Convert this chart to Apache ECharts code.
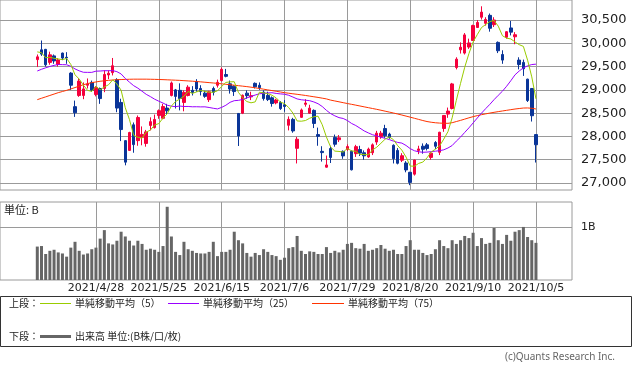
<!DOCTYPE html>
<html><head><meta charset="utf-8">
<script src="https://cdn.jsdelivr.net/npm/echarts@6/dist/echarts.min.js"></script>
<style>html,body{margin:0;padding:0;background:#fff}#c{width:633px;height:372px}</style>
</head><body><div id="c"></div><script>
const dates = ['2021/4/8','2021/4/9','2021/4/12','2021/4/13','2021/4/14','2021/4/15','2021/4/16','2021/4/19','2021/4/20','2021/4/21',
'2021/4/22','2021/4/23','2021/4/26','2021/4/27','2021/4/28','2021/4/30','2021/5/6','2021/5/7','2021/5/10','2021/5/11',
'2021/5/12','2021/5/13','2021/5/14','2021/5/17','2021/5/18','2021/5/19','2021/5/20','2021/5/21','2021/5/24','2021/5/25',
'2021/5/26','2021/5/27','2021/5/28','2021/5/31','2021/6/1','2021/6/2','2021/6/3','2021/6/4','2021/6/7','2021/6/8',
'2021/6/9','2021/6/10','2021/6/11','2021/6/14','2021/6/15','2021/6/16','2021/6/17','2021/6/18','2021/6/21','2021/6/22',
'2021/6/23','2021/6/24','2021/6/25','2021/6/28','2021/6/29','2021/6/30','2021/7/1','2021/7/2','2021/7/5','2021/7/6',
'2021/7/7','2021/7/8','2021/7/9','2021/7/12','2021/7/13','2021/7/14','2021/7/15','2021/7/16','2021/7/19','2021/7/20',
'2021/7/21','2021/7/26','2021/7/27','2021/7/28','2021/7/29','2021/7/30','2021/8/2','2021/8/3','2021/8/4','2021/8/5',
'2021/8/6','2021/8/10','2021/8/11','2021/8/12','2021/8/13','2021/8/16','2021/8/17','2021/8/18','2021/8/19','2021/8/20',
'2021/8/23','2021/8/24','2021/8/25','2021/8/26','2021/8/27','2021/8/30','2021/8/31','2021/9/1','2021/9/2','2021/9/3',
'2021/9/6','2021/9/7','2021/9/8','2021/9/9','2021/9/10','2021/9/13','2021/9/14','2021/9/15','2021/9/16','2021/9/17',
'2021/9/21','2021/9/22','2021/9/24','2021/9/27','2021/9/28','2021/9/29','2021/9/30','2021/10/1','2021/10/4','2021/10/5'];

const opens = [29650,29860,29870,29590,29730,29545,29790,29700,29360,28640,
28880,28880,29100,29160,28900,29030,29030,29320,29370,29220,
28730,27910,27700,28250,27910,27980,27850,28236,28190,28450,
28390,28610,28880,29000,28990,28730,28880,28990,29180,29030,
28930,28790,29030,29100,29200,29330,29130,29080,28494,28500,
28930,28850,29140,29100,28950,28880,28830,28720,28730,28680,
28240,28366,27745,28410,28690,28500,28560,28040,27680,27340,
27740,27980,27930,27680,27720,27680,27630,27720,27650,27560,
27650,27880,28000,28170,28050,27810,27700,27490,27430,27230,
27190,27700,27790,27820,27550,27870,27660,28170,28480,28600,
29480,29860,29790,29920,30060,30340,30560,30430,30600,30400,
30020,29760,30130,30330,30140,29640,29590,29230,29030,28040];
const closes = [29709,29768,29539,29752,29621,29643,29683,29685,29100,28509,
29188,29021,29126,28992,29054,28813,29331,29358,29518,28609,
28148,27448,28084,27825,28407,28044,28098,28318,28365,28554,
28642,28549,29149,28860,28814,28946,29058,28942,29019,28964,
28861,28959,28949,29162,29441,29291,29018,28964,28011,28884,
28875,28875,29066,29048,28813,28792,28707,28783,28598,28643,
28367,28118,27940,28569,28718,28608,28279,28003,27653,27388,
27548,27833,27970,27582,27782,27284,27781,27642,27584,27728,
27820,28070,28070,28015,27977,27523,27424,27586,27281,27013,
27494,27732,27725,27742,27641,27789,28090,28451,28544,29128,
29660,29916,30181,30008,30382,30447,30670,30512,30323,30500,
29840,29639,30249,30240,30184,29544,29453,28771,28445,27822];
const lows = [29490,29730,29500,29540,29560,29500,29640,29560,29000,28420,
28850,28800,29030,28960,28860,28700,28950,29230,29310,28520,
27900,27380,27690,27650,27800,27810,27780,28130,28170,28380,
28370,28460,28860,28600,28560,28540,28860,28880,28960,28880,
28830,28740,28880,29050,29180,29270,28920,28870,27795,28480,
28810,28780,29030,29000,28770,28760,28640,28690,28570,28530,
28130,28080,27420,28400,28640,28490,28180,27800,27460,27330,
27430,27780,27880,27520,27690,27270,27560,27580,27500,27540,
27600,27820,27950,27970,27950,27420,27400,27450,27230,26954,
27160,27620,27630,27700,27500,27730,27600,28100,28400,28580,
29440,29780,29760,29880,30050,30330,30510,30380,30250,30350,
29790,29560,30100,30170,29980,29440,29300,28740,28320,27440];
const highs = [29760,30060,29880,29820,29760,29680,29800,29810,29380,28770,
29250,29160,29245,29200,29080,29050,29420,29420,29685,29250,
28810,27920,28100,28300,28450,28215,28140,28410,28470,28580,
28700,28700,29180,29020,29140,28990,29100,29080,29230,29100,
28980,28980,29070,29220,29480,29450,29200,29100,28500,28900,
28990,28960,29160,29160,28990,28960,28860,28810,28760,28780,
28430,28400,27990,28600,28800,28680,28580,28190,27790,27590,
27800,28040,28030,27700,27830,27700,27820,27800,27700,27760,
27850,28120,28120,28250,28080,27830,27750,27640,27470,27240,
27500,27800,27850,27860,27660,27900,28100,28460,28620,29150,
29700,30020,30220,30100,30400,30500,30795,30560,30640,30560,
30040,29850,30260,30480,30240,29700,29650,29240,29040,28050];

const ma5 = [29816,29799,29689,29700,29678,29665,29648,29677,29546,29324,
29233,29101,28989,28967,29076,29001,29063,29110,29215,29126,
28993,28616,28361,28023,27982,27962,28092,28138,28246,28276,
28395,28486,28652,28751,28803,28864,28965,28924,28956,28986,
28969,28949,28950,28979,29074,29160,29172,29175,28945,28834,
28750,28722,28742,28950,28935,28919,28885,28829,28739,28705,
28620,28502,28333,28327,28342,28391,28423,28435,28252,27986,
27774,27685,27678,27664,27743,27690,27680,27614,27615,27604,
27711,27769,27854,27941,27990,27931,27802,27705,27558,27365,
27360,27421,27449,27541,27667,27726,27797,27943,28103,28400,
28775,29140,29486,29779,30029,30187,30338,30404,30467,30490,
30369,30163,30110,30094,30030,29971,29934,29638,29279,28807];
const ma25 = [29406,29442,29474,29503,29526,29544,29542,29539,29506,29450,
29409,29378,29376,29376,29402,29405,29412,29411,29414,29391,
29342,29245,29165,29090,29037,28971,28904,28855,28800,28757,
28717,28671,28650,28640,28653,28643,28644,28637,28638,28635,
28636,28622,28605,28591,28624,28670,28733,28768,28775,28794,
28828,28859,28889,28916,28926,28932,28939,28924,28914,28907,
28884,28846,28806,28788,28778,28768,28741,28703,28643,28560,
28491,28443,28404,28386,28342,28279,28235,28178,28119,28076,
28037,28012,27983,27960,27933,27899,27872,27857,27806,27738,
27693,27671,27660,27664,27674,27684,27694,27713,27752,27805,
27900,27986,28087,28184,28290,28396,28500,28597,28690,28790,
28883,28972,29078,29197,29323,29405,29474,29516,29544,29552];
const ma75 = [28790,28820,28850,28880,28910,28940,28965,28990,29020,29050,
29080,29110,29135,29155,29170,29185,29195,29205,29212,29218,
29222,29225,29228,29230,29230,29230,29230,29228,29226,29223,
29220,29216,29212,29208,29204,29198,29192,29186,29180,29172,
29164,29156,29148,29140,29130,29120,29110,29100,29090,29080,
29070,29058,29045,29030,29015,29000,28985,28970,28955,28940,
28928,28916,28905,28893,28880,28866,28852,28838,28822,28806,
28780,28762,28744,28725,28707,28690,28672,28654,28636,28618,
28600,28582,28563,28543,28523,28503,28482,28460,28437,28414,
28390,28366,28342,28320,28305,28294,28287,28283,28282,28295,
28320,28345,28372,28400,28425,28447,28467,28485,28502,28518,
28533,28547,28561,28575,28589,28600,28610,28612,28605,28590];

const volumes = [0.63,0.64,0.49,0.55,0.57,0.52,0.50,0.44,0.61,0.72,
0.55,0.48,0.50,0.58,0.61,0.78,0.94,0.69,0.67,0.74,
0.91,0.82,0.74,0.65,0.74,0.68,0.57,0.59,0.57,0.53,
0.64,1.38,0.82,0.53,0.47,0.72,0.58,0.55,0.51,0.50,
0.50,0.53,0.72,0.45,0.53,0.53,0.57,0.91,0.75,0.69,
0.51,0.44,0.51,0.47,0.58,0.53,0.47,0.45,0.38,0.42,
0.60,0.62,0.83,0.55,0.49,0.54,0.53,0.49,0.49,0.62,
0.51,0.55,0.52,0.57,0.68,0.70,0.60,0.59,0.68,0.55,
0.57,0.60,0.66,0.59,0.55,0.57,0.49,0.49,0.64,0.75,
0.57,0.57,0.51,0.47,0.49,0.58,0.75,0.64,0.60,0.75,
0.68,0.75,0.83,0.79,0.89,0.64,0.79,0.68,0.70,0.98,
0.75,0.68,0.85,0.74,0.91,0.94,1.00,0.81,0.75,0.70];

const dateTickIdx = [14, 29, 44, 59, 74, 89, 104, 119];
const priceTicks = [27000, 27500, 28000, 28500, 29000, 29500, 30000, 30500];
const volumeTicks = [1];

const RED = '#f5003c', BLUE = '#0a3598';
const GRID = '#9a9a9a';
const X_MIN = -8.9, X_MAX = 127.6;
const FONT = '"DejaVu Sans", "Noto Sans CJK JP", sans-serif';
const JFONT = '"Noto Sans CJK JP", "DejaVu Sans", sans-serif';

const idxOf = (arr) => arr.map((v, i) => [i, v]);
const candleData = dates.map((d, i) => [i, opens[i], closes[i], lows[i], highs[i]]);
const fmtComma = (v) => String(v).replace(/\B(?=(\d{3})+(?!\d))/g, ',');

const chart = echarts.init(document.getElementById('c'), null, {renderer: 'canvas'});
const xCommon = (gi, showLabel) => ({
  type: 'value', gridIndex: gi, min: X_MIN, max: X_MAX,
  axisLine: {show: false},
  axisTick: {show: false, customValues: dateTickIdx},
  axisLabel: {show: showLabel, customValues: dateTickIdx, formatter: (v) => dates[Math.round(v)],
    margin: 3, color: '#222', fontSize: 11, fontFamily: FONT},
  splitLine: {show: true, lineStyle: {color: GRID, width: 1}}
});
chart.setOption({
  animation: false,
  backgroundColor: '#fff',
  grid: [
    {left: 0, top: 0, width: 572, height: 190, show: true, borderColor: GRID, borderWidth: 1, backgroundColor: 'transparent'},
    {left: 0, top: 202, width: 572, height: 78, show: true, borderColor: GRID, borderWidth: 1, backgroundColor: 'transparent'}
  ],
  xAxis: [xCommon(0, false), xCommon(1, true)],
  yAxis: [
    {type: 'value', gridIndex: 0, position: 'right', min: 26850, max: 30930,
     axisLine: {show: false}, axisTick: {show: false, customValues: priceTicks},
     axisLabel: {customValues: priceTicks, formatter: (v) => fmtComma(v), margin: 9, color: '#222', fontSize: 13, fontFamily: FONT, align: 'left'},
     splitLine: {show: true, lineStyle: {color: GRID, width: 1}}},
    {type: 'value', gridIndex: 1, position: 'right', min: 0, max: 1.47,
     axisLine: {show: false}, axisTick: {show: false, customValues: volumeTicks},
     axisLabel: {customValues: volumeTicks, formatter: () => '1B', margin: 9, color: '#222', fontSize: 11, fontFamily: FONT, align: 'left'},
     splitLine: {show: true, lineStyle: {color: GRID, width: 1}}}
  ],
  series: [
    {type: 'candlestick', xAxisIndex: 0, yAxisIndex: 0, data: candleData, barWidth: 3,
     itemStyle: {color: RED, color0: BLUE, borderColor: RED, borderColor0: BLUE, borderWidth: 1}, z: 2},
    {type: 'line', xAxisIndex: 0, yAxisIndex: 0, data: idxOf(ma75), symbol: 'none', lineStyle: {color: '#ff3300', width: 1}, z: 3},
    {type: 'line', xAxisIndex: 0, yAxisIndex: 0, data: idxOf(ma25), symbol: 'none', lineStyle: {color: '#9900ff', width: 1}, z: 3},
    {type: 'line', xAxisIndex: 0, yAxisIndex: 0, data: idxOf(ma5), symbol: 'none', lineStyle: {color: '#99cc00', width: 1}, z: 3},
    {type: 'bar', xAxisIndex: 1, yAxisIndex: 1, data: idxOf(volumes), barWidth: 3, itemStyle: {color: '#666'}}
  ],
  graphic: [
    {type: 'text', left: 4, top: 204, style: {text: '単位: B', fontSize: 11, fontFamily: JFONT, fill: '#222'}},
    {type: 'rect', shape: {x: 0.5, y: 296.5, width: 631, height: 50}, style: {fill: 'none', stroke: '#333', lineWidth: 1}},
    {type: 'text', x: 9, y: 303, style: {text: '上段：', fontSize: 10, fontFamily: JFONT, fill: '#222', verticalAlign: 'middle'}},
    {type: 'line', shape: {x1: 40, y1: 303.5, x2: 71, y2: 303.5}, style: {stroke: '#99cc00', lineWidth: 1}},
    {type: 'text', x: 75, y: 303, style: {text: '単純移動平均（5）', fontSize: 10, fontFamily: JFONT, fill: '#222', verticalAlign: 'middle'}},
    {type: 'line', shape: {x1: 168, y1: 303.5, x2: 199, y2: 303.5}, style: {stroke: '#9900ff', lineWidth: 1}},
    {type: 'text', x: 203, y: 303, style: {text: '単純移動平均（25）', fontSize: 10, fontFamily: JFONT, fill: '#222', verticalAlign: 'middle'}},
    {type: 'line', shape: {x1: 312, y1: 303.5, x2: 344, y2: 303.5}, style: {stroke: '#ff3300', lineWidth: 1}},
    {type: 'text', x: 348, y: 303, style: {text: '単純移動平均（75）', fontSize: 10, fontFamily: JFONT, fill: '#222', verticalAlign: 'middle'}},
    {type: 'text', x: 9, y: 336, style: {text: '下段：', fontSize: 10, fontFamily: JFONT, fill: '#222', verticalAlign: 'middle'}},
    {type: 'line', shape: {x1: 40, y1: 336.5, x2: 71, y2: 336.5}, style: {stroke: '#666', lineWidth: 3}},
    {type: 'text', x: 75, y: 336, style: {text: '出来高 単位:(B株/口/枚)', fontSize: 10, fontFamily: JFONT, fill: '#222', verticalAlign: 'middle'}},
    {type: 'text', x: 615, y: 357, style: {text: '(c)Quants Research Inc.', fontSize: 10, fontFamily: '"Noto Sans", sans-serif', fill: '#666', align: 'right', verticalAlign: 'middle'}}
  ]
});
</script></body></html>
